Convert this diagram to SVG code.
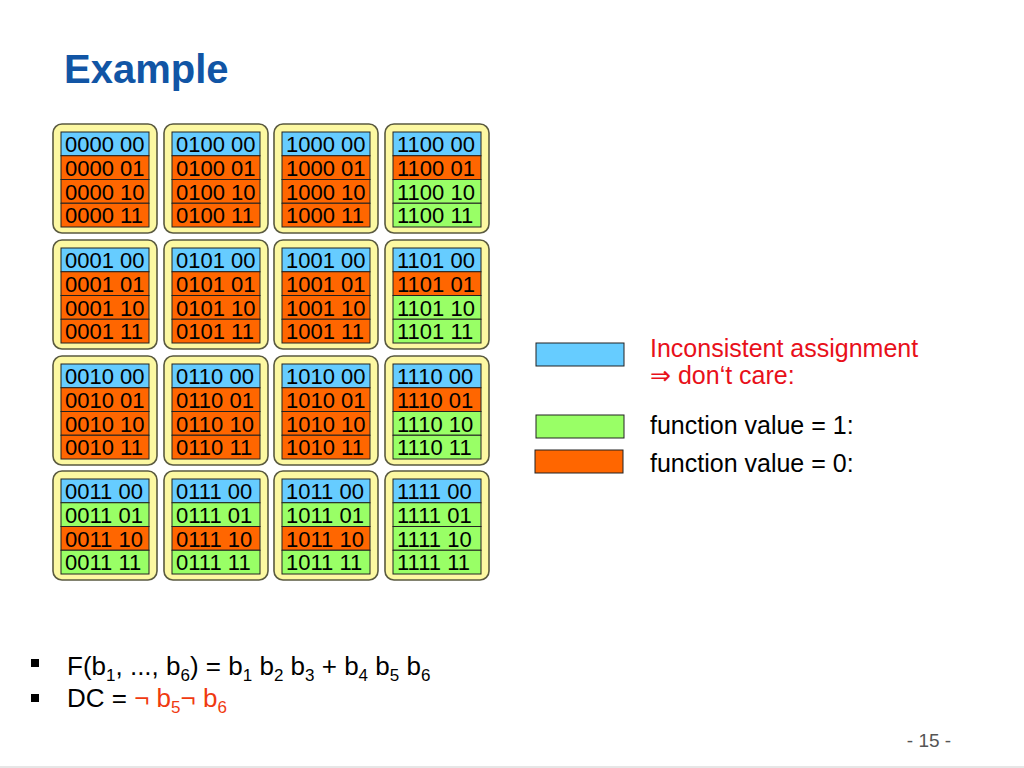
<svg xmlns="http://www.w3.org/2000/svg" width="1024" height="768" viewBox="0 0 1024 768">
<style>
.blk{fill:#FCF8A2;stroke:#5a5a40;stroke-width:1.6}
.b{fill:#66CCFF;stroke:#222;stroke-width:1}
.o{fill:#FF6600;stroke:#222;stroke-width:1}
.g{fill:#99FF66;stroke:#222;stroke-width:1}
.t{font-family:"Liberation Sans",Arial,sans-serif;font-size:22px;fill:#000}
.lg{font-family:"Liberation Sans",Arial,sans-serif;font-size:25px}
.bl{font-family:"Liberation Sans",Arial,sans-serif;font-size:26px;fill:#000}
.sub{font-size:17px}
</style>
<rect width="1024" height="768" fill="#fff"/>
<text x="64" y="83" font-family="Liberation Sans,Arial,sans-serif" font-weight="bold" font-size="40" fill="#1155A5">Example</text>

<g id="b0000" transform="translate(61,132)"><rect class="blk" x="-8" y="-8" width="104" height="109" rx="9"/>
<rect class="b" x="0" y="0" width="88" height="23.75"/><rect class="o" x="0" y="23.75" width="88" height="23.75"/><rect class="o" x="0" y="47.5" width="88" height="23.75"/><rect class="o" x="0" y="71.25" width="88" height="23.75"/>
<text class="t" x="4" y="20">0000 00</text><text class="t" x="4" y="43.75">0000 01</text><text class="t" x="4" y="67.5">0000 10</text><text class="t" x="4" y="91.25">0000 11</text></g>
<g id="b0100" transform="translate(172,132)"><rect class="blk" x="-8" y="-8" width="104" height="109" rx="9"/>
<rect class="b" x="0" y="0" width="88" height="23.75"/><rect class="o" x="0" y="23.75" width="88" height="23.75"/><rect class="o" x="0" y="47.5" width="88" height="23.75"/><rect class="o" x="0" y="71.25" width="88" height="23.75"/>
<text class="t" x="4" y="20">0100 00</text><text class="t" x="4" y="43.75">0100 01</text><text class="t" x="4" y="67.5">0100 10</text><text class="t" x="4" y="91.25">0100 11</text></g>
<g id="b1000" transform="translate(282,132)"><rect class="blk" x="-8" y="-8" width="104" height="109" rx="9"/>
<rect class="b" x="0" y="0" width="88" height="23.75"/><rect class="o" x="0" y="23.75" width="88" height="23.75"/><rect class="o" x="0" y="47.5" width="88" height="23.75"/><rect class="o" x="0" y="71.25" width="88" height="23.75"/>
<text class="t" x="4" y="20">1000 00</text><text class="t" x="4" y="43.75">1000 01</text><text class="t" x="4" y="67.5">1000 10</text><text class="t" x="4" y="91.25">1000 11</text></g>
<g id="b1100" transform="translate(393,132)"><rect class="blk" x="-8" y="-8" width="104" height="109" rx="9"/>
<rect class="b" x="0" y="0" width="88" height="23.75"/><rect class="o" x="0" y="23.75" width="88" height="23.75"/><rect class="g" x="0" y="47.5" width="88" height="23.75"/><rect class="g" x="0" y="71.25" width="88" height="23.75"/>
<text class="t" x="4" y="20">1100 00</text><text class="t" x="4" y="43.75">1100 01</text><text class="t" x="4" y="67.5">1100 10</text><text class="t" x="4" y="91.25">1100 11</text></g>

<g id="b0001" transform="translate(61,248)"><rect class="blk" x="-8" y="-8" width="104" height="109" rx="9"/>
<rect class="b" x="0" y="0" width="88" height="23.75"/><rect class="o" x="0" y="23.75" width="88" height="23.75"/><rect class="o" x="0" y="47.5" width="88" height="23.75"/><rect class="o" x="0" y="71.25" width="88" height="23.75"/>
<text class="t" x="4" y="20">0001 00</text><text class="t" x="4" y="43.75">0001 01</text><text class="t" x="4" y="67.5">0001 10</text><text class="t" x="4" y="91.25">0001 11</text></g>
<g id="b0101" transform="translate(172,248)"><rect class="blk" x="-8" y="-8" width="104" height="109" rx="9"/>
<rect class="b" x="0" y="0" width="88" height="23.75"/><rect class="o" x="0" y="23.75" width="88" height="23.75"/><rect class="o" x="0" y="47.5" width="88" height="23.75"/><rect class="o" x="0" y="71.25" width="88" height="23.75"/>
<text class="t" x="4" y="20">0101 00</text><text class="t" x="4" y="43.75">0101 01</text><text class="t" x="4" y="67.5">0101 10</text><text class="t" x="4" y="91.25">0101 11</text></g>
<g id="b1001" transform="translate(282,248)"><rect class="blk" x="-8" y="-8" width="104" height="109" rx="9"/>
<rect class="b" x="0" y="0" width="88" height="23.75"/><rect class="o" x="0" y="23.75" width="88" height="23.75"/><rect class="o" x="0" y="47.5" width="88" height="23.75"/><rect class="o" x="0" y="71.25" width="88" height="23.75"/>
<text class="t" x="4" y="20">1001 00</text><text class="t" x="4" y="43.75">1001 01</text><text class="t" x="4" y="67.5">1001 10</text><text class="t" x="4" y="91.25">1001 11</text></g>
<g id="b1101" transform="translate(393,248)"><rect class="blk" x="-8" y="-8" width="104" height="109" rx="9"/>
<rect class="b" x="0" y="0" width="88" height="23.75"/><rect class="o" x="0" y="23.75" width="88" height="23.75"/><rect class="g" x="0" y="47.5" width="88" height="23.75"/><rect class="g" x="0" y="71.25" width="88" height="23.75"/>
<text class="t" x="4" y="20">1101 00</text><text class="t" x="4" y="43.75">1101 01</text><text class="t" x="4" y="67.5">1101 10</text><text class="t" x="4" y="91.25">1101 11</text></g>

<g id="b0010" transform="translate(61,364)"><rect class="blk" x="-8" y="-8" width="104" height="109" rx="9"/>
<rect class="b" x="0" y="0" width="88" height="23.75"/><rect class="o" x="0" y="23.75" width="88" height="23.75"/><rect class="o" x="0" y="47.5" width="88" height="23.75"/><rect class="o" x="0" y="71.25" width="88" height="23.75"/>
<text class="t" x="4" y="20">0010 00</text><text class="t" x="4" y="43.75">0010 01</text><text class="t" x="4" y="67.5">0010 10</text><text class="t" x="4" y="91.25">0010 11</text></g>
<g id="b0110" transform="translate(172,364)"><rect class="blk" x="-8" y="-8" width="104" height="109" rx="9"/>
<rect class="b" x="0" y="0" width="88" height="23.75"/><rect class="o" x="0" y="23.75" width="88" height="23.75"/><rect class="o" x="0" y="47.5" width="88" height="23.75"/><rect class="o" x="0" y="71.25" width="88" height="23.75"/>
<text class="t" x="4" y="20">0110 00</text><text class="t" x="4" y="43.75">0110 01</text><text class="t" x="4" y="67.5">0110 10</text><text class="t" x="4" y="91.25">0110 11</text></g>
<g id="b1010" transform="translate(282,364)"><rect class="blk" x="-8" y="-8" width="104" height="109" rx="9"/>
<rect class="b" x="0" y="0" width="88" height="23.75"/><rect class="o" x="0" y="23.75" width="88" height="23.75"/><rect class="o" x="0" y="47.5" width="88" height="23.75"/><rect class="o" x="0" y="71.25" width="88" height="23.75"/>
<text class="t" x="4" y="20">1010 00</text><text class="t" x="4" y="43.75">1010 01</text><text class="t" x="4" y="67.5">1010 10</text><text class="t" x="4" y="91.25">1010 11</text></g>
<g id="b1110" transform="translate(393,364)"><rect class="blk" x="-8" y="-8" width="104" height="109" rx="9"/>
<rect class="b" x="0" y="0" width="88" height="23.75"/><rect class="o" x="0" y="23.75" width="88" height="23.75"/><rect class="g" x="0" y="47.5" width="88" height="23.75"/><rect class="g" x="0" y="71.25" width="88" height="23.75"/>
<text class="t" x="4" y="20">1110 00</text><text class="t" x="4" y="43.75">1110 01</text><text class="t" x="4" y="67.5">1110 10</text><text class="t" x="4" y="91.25">1110 11</text></g>

<g id="b0011" transform="translate(61,479)"><rect class="blk" x="-8" y="-8" width="104" height="109" rx="9"/>
<rect class="b" x="0" y="0" width="88" height="23.75"/><rect class="g" x="0" y="23.75" width="88" height="23.75"/><rect class="o" x="0" y="47.5" width="88" height="23.75"/><rect class="g" x="0" y="71.25" width="88" height="23.75"/>
<text class="t" x="4" y="20">0011 00</text><text class="t" x="4" y="43.75">0011 01</text><text class="t" x="4" y="67.5">0011 10</text><text class="t" x="4" y="91.25">0011 11</text></g>
<g id="b0111" transform="translate(172,479)"><rect class="blk" x="-8" y="-8" width="104" height="109" rx="9"/>
<rect class="b" x="0" y="0" width="88" height="23.75"/><rect class="g" x="0" y="23.75" width="88" height="23.75"/><rect class="o" x="0" y="47.5" width="88" height="23.75"/><rect class="g" x="0" y="71.25" width="88" height="23.75"/>
<text class="t" x="4" y="20">0111 00</text><text class="t" x="4" y="43.75">0111 01</text><text class="t" x="4" y="67.5">0111 10</text><text class="t" x="4" y="91.25">0111 11</text></g>
<g id="b1011" transform="translate(282,479)"><rect class="blk" x="-8" y="-8" width="104" height="109" rx="9"/>
<rect class="b" x="0" y="0" width="88" height="23.75"/><rect class="g" x="0" y="23.75" width="88" height="23.75"/><rect class="o" x="0" y="47.5" width="88" height="23.75"/><rect class="g" x="0" y="71.25" width="88" height="23.75"/>
<text class="t" x="4" y="20">1011 00</text><text class="t" x="4" y="43.75">1011 01</text><text class="t" x="4" y="67.5">1011 10</text><text class="t" x="4" y="91.25">1011 11</text></g>
<g id="b1111" transform="translate(393,479)"><rect class="blk" x="-8" y="-8" width="104" height="109" rx="9"/>
<rect class="b" x="0" y="0" width="88" height="23.75"/><rect class="g" x="0" y="23.75" width="88" height="23.75"/><rect class="g" x="0" y="47.5" width="88" height="23.75"/><rect class="g" x="0" y="71.25" width="88" height="23.75"/>
<text class="t" x="4" y="20">1111 00</text><text class="t" x="4" y="43.75">1111 01</text><text class="t" x="4" y="67.5">1111 10</text><text class="t" x="4" y="91.25">1111 11</text></g>

<g id="legend">
<rect class="b" x="536" y="343" width="88" height="23"/>
<rect class="g" x="536" y="415" width="88" height="23"/>
<rect class="o" x="535" y="450" width="88" height="23"/>
<text class="lg" x="650" y="357" fill="#E8101A">Inconsistent assignment</text>
<text class="lg" x="650" y="384" fill="#E8101A">⇒ don‘t care:</text>
<text class="lg" x="650" y="434" fill="#000">function value = 1:</text>
<text class="lg" x="650" y="472" fill="#000">function value = 0:</text>
</g>

<g id="bullets">
<rect x="31" y="659" width="8" height="8" fill="#000"/>
<rect x="31" y="694" width="8" height="8" fill="#000"/>
<text class="bl" x="67" y="675">F(b<tspan class="sub" dy="6">1</tspan><tspan dy="-6">, ..., b</tspan><tspan class="sub" dy="6">6</tspan><tspan dy="-6">) = b</tspan><tspan class="sub" dy="6">1</tspan><tspan dy="-6"> b</tspan><tspan class="sub" dy="6">2</tspan><tspan dy="-6"> b</tspan><tspan class="sub" dy="6">3</tspan><tspan dy="-6"> + b</tspan><tspan class="sub" dy="6">4</tspan><tspan dy="-6"> b</tspan><tspan class="sub" dy="6">5</tspan><tspan dy="-6"> b</tspan><tspan class="sub" dy="6">6</tspan></text>
<text class="bl" x="67" y="707">DC = <tspan fill="#F03A10">¬ b</tspan><tspan class="sub" fill="#F03A10" dy="6">5</tspan><tspan fill="#F03A10" dy="-6">¬ b</tspan><tspan class="sub" fill="#F03A10" dy="6">6</tspan></text>
</g>

<text x="929" y="747" text-anchor="middle" font-family="Liberation Sans,Arial,sans-serif" font-size="19" fill="#555">-  15 -</text>
<line x1="0" y1="767" x2="1024" y2="767" stroke="#e6e6e6" stroke-width="2"/>
</svg>
